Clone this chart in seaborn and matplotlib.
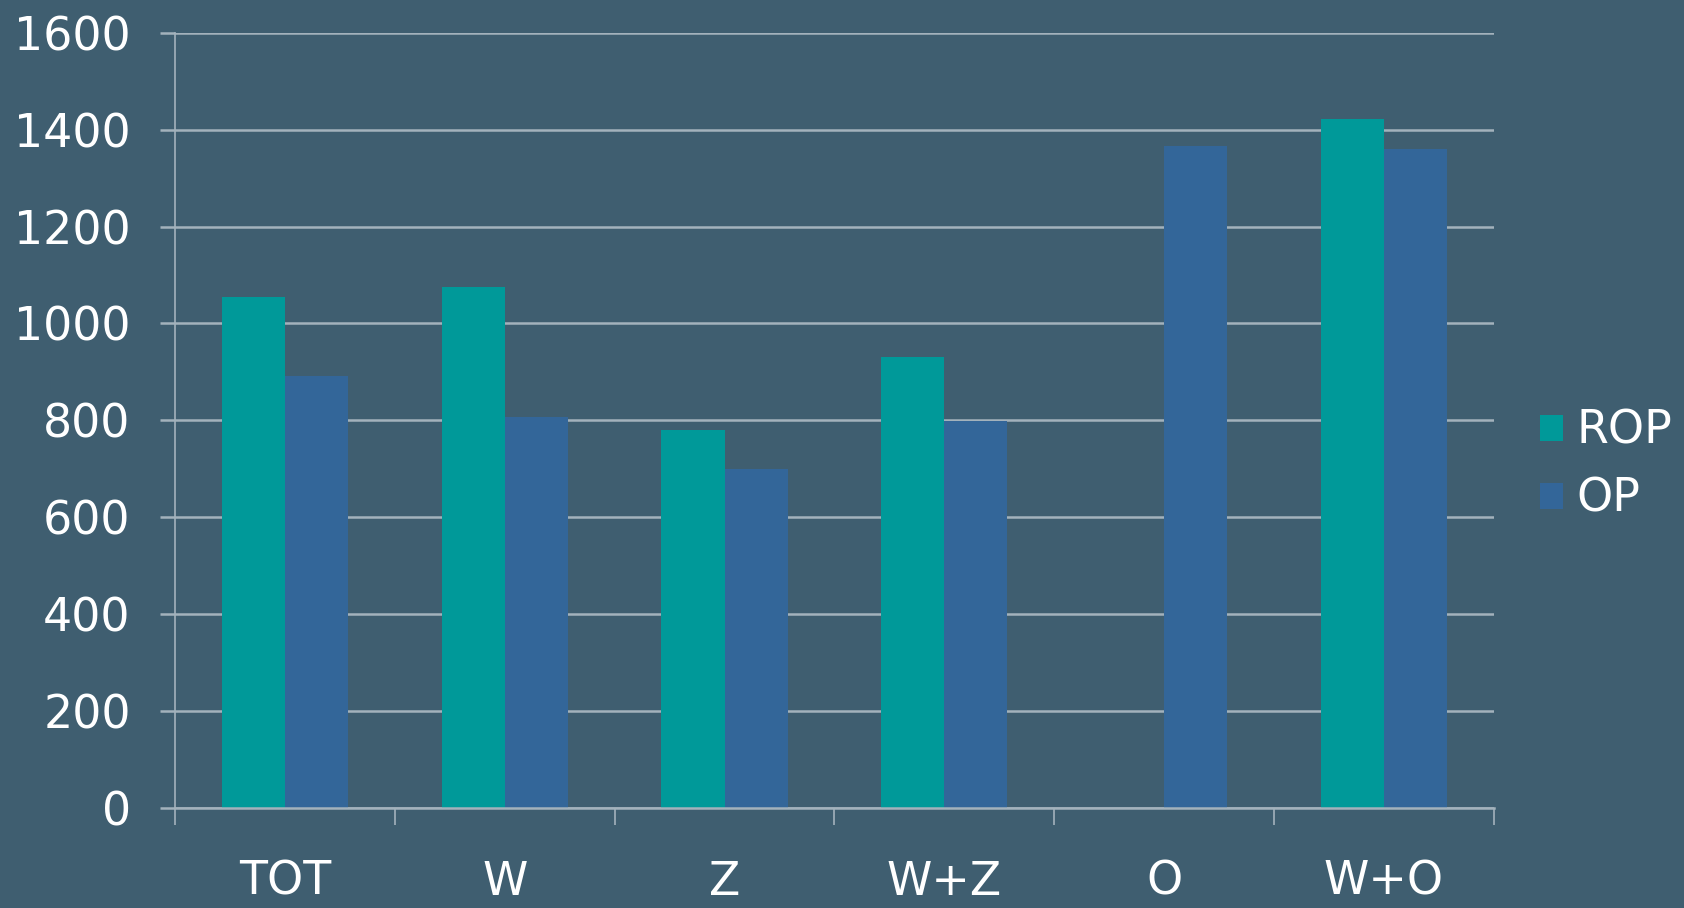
import seaborn as sns
import matplotlib.pyplot as plt
import pandas as pd
import numpy as np

categories = ["TOT", "W", "Z", "W+Z", "O", "W+O"]
rop_values = [1054, 1075, 781, 931, np.nan, 1422]
op_values = [892, 806, 699, 799, 1367, 1359]
series_names = ["ROP", "OP"]
y_ticks = [0, 200, 400, 600, 800, 1000, 1200, 1400, 1600]

bg = "#3F5E70"
grid_col = "#A3B2BC"

df = pd.DataFrame({
    "cat": categories * 2,
    "series": [series_names[0]] * len(categories) + [series_names[1]] * len(categories),
    "value": rop_values + op_values,
})
df = df.dropna()

sns.set_style("white", {"xtick.bottom": True, "ytick.left": True})
plt.rcParams["font.family"] = ["DejaVu Sans"]

fig = plt.figure(figsize=(16.84, 9.08), dpi=100, facecolor=bg)
ax = fig.add_axes([0.104, 0.110, 0.783, 0.854])
ax.set_facecolor(bg)

sns.barplot(data=df, x="cat", y="value", hue="series", order=categories,
            hue_order=series_names, palette=["#009999", "#336699"],
            width=0.575, saturation=1, gap=0, edgecolor="none", ax=ax)

ax.set_ylim(0, 1600)
ax.set_xlim(-0.5, len(categories) - 0.5)
ax.set_yticks(y_ticks)
ax.set_yticklabels([str(t) for t in y_ticks], fontsize=33, color="white")
ax.yaxis.grid(True, color=grid_col, linewidth=1.8)
ax.set_axisbelow(True)
ax.tick_params(axis="y", left=True, length=11, width=1.8, color=grid_col, pad=21)

ax.set_xticks(range(len(categories)))
ax.set_xticklabels(categories, fontsize=33, color="white")
ax.tick_params(axis="x", which="major", bottom=True, length=0, pad=37)
ax.set_xticks(np.arange(-0.5, len(categories)), minor=True)
ax.tick_params(axis="x", which="minor", bottom=True, length=12.5, width=1.2, color=grid_col)

ax.set_xlabel("")
ax.set_ylabel("")
for s in ["top", "right"]:
    ax.spines[s].set_visible(False)
ax.spines["left"].set_color(grid_col)
ax.spines["left"].set_linewidth(1.2)
ax.spines["bottom"].set_color(grid_col)
ax.spines["bottom"].set_linewidth(1.8)

leg = ax.legend(loc="center left", bbox_to_anchor=(1.035, 0.442), frameon=False,
                fontsize=33, handlelength=0.5, handleheight=0.5,
                handletextpad=0.3, labelspacing=0.5, borderaxespad=0, borderpad=0)
for t in leg.get_texts():
    t.set_color("white")

fig.savefig("out.png", dpi=100, facecolor=bg)
